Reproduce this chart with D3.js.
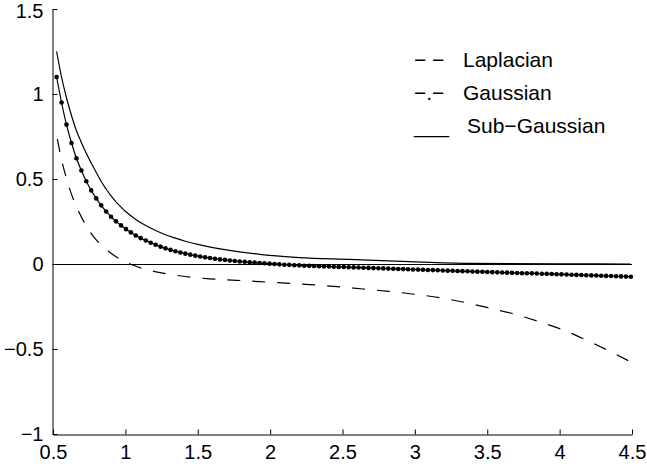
<!DOCTYPE html>
<html>
<head>
<meta charset="utf-8">
<script src="https://cdn.jsdelivr.net/npm/d3@7"></script>
<style>
  body { margin: 0; background: #fff; }
  svg text { font-family: "Liberation Sans", Arial, Helvetica, sans-serif; fill: #000; }
</style>
</head>
<body>
<script>
(function() {
    'use strict';

    // tick labels
    var xTicks = [0.5, 1, 1.5, 2, 2.5, 3, 3.5, 4, 4.5];
    var yTicks = [-1, -0.5, 0, 0.5, 1, 1.5];

    // legend
    var legendLabels = ["Laplacian", "Gaussian", "Sub\u2212Gaussian"];
    var legendSymbols = ["\u2212 \u2212", "\u2212.\u2212", "___"];

    // Laplacian (dashed)
    var lapX = [0.53, 0.56, 0.594, 0.63, 0.663, 0.70, 0.755, 0.80, 0.86, 0.93, 1.0, 1.05, 1.13, 1.24, 1.40,
                1.58, 1.77, 1.93, 2.11, 2.27, 2.46, 2.64, 2.82, 3.0, 3.17, 3.34, 3.51, 3.7, 3.86, 4.03,
                4.19, 4.35, 4.49];
    var lapY = [0.735, 0.61, 0.50, 0.405, 0.335, 0.27, 0.19, 0.14, 0.092, 0.046, 0.013, -0.006, -0.029, -0.051, -0.072,
                -0.087, -0.096, -0.104, -0.113, -0.121, -0.133, -0.147, -0.161, -0.178, -0.198, -0.225, -0.258, -0.298, -0.34, -0.39,
                -0.45, -0.515, -0.575];

    // Sub-Gaussian (solid)
    var subX = [0.525, 0.559, 0.593, 0.628, 0.662, 0.696, 0.730, 0.764, 0.799, 0.833,
                0.867, 0.901, 0.935, 0.970, 1.004, 1.072, 1.141, 1.209, 1.277, 1.346,
                1.414, 1.517, 1.654, 1.790, 1.927, 2.064, 2.201, 2.55, 2.96, 3.37,
                4.0, 4.49];
    var subY = [1.25, 1.10, 0.978, 0.872, 0.784, 0.715, 0.651, 0.594, 0.538, 0.485,
                0.441, 0.401, 0.366, 0.335, 0.307, 0.262, 0.226, 0.197, 0.172, 0.152,
                0.134, 0.112, 0.089, 0.071, 0.057, 0.046, 0.038, 0.027, 0.014, 0.004,
                0.001, 0.0];

    // Gaussian (line with dots)
    var gaussX = [0.525, 0.559, 0.593, 0.628, 0.662, 0.696, 0.730, 0.764, 0.799, 0.833,
                  0.867, 0.901, 0.935, 0.970, 1.004, 1.038, 1.072, 1.106, 1.141, 1.175,
                  1.209, 1.243, 1.277, 1.312, 1.346, 1.380, 1.414, 1.448, 1.483, 1.517,
                  1.551, 1.585, 1.619, 1.654, 1.688, 1.722, 1.756, 1.790, 1.825, 1.859,
                  1.893, 1.927, 1.961, 1.996, 2.030, 2.064, 2.098, 2.132, 2.167, 2.201,
                  2.235, 2.269, 2.303, 2.338, 2.372, 2.406, 2.440, 2.474, 2.509, 2.543,
                  2.577, 2.611, 2.645, 2.680, 2.714, 2.748, 2.782, 2.816, 2.851, 2.885,
                  2.919, 2.953, 2.987, 3.022, 3.056, 3.090, 3.124, 3.158, 3.193, 3.227,
                  3.261, 3.295, 3.329, 3.364, 3.398, 3.432, 3.466, 3.500, 3.535, 3.569,
                  3.603, 3.637, 3.671, 3.706, 3.740, 3.774, 3.808, 3.842, 3.877, 3.911,
                  3.945, 3.979, 4.013, 4.048, 4.082, 4.116, 4.150, 4.184, 4.219, 4.253,
                  4.287, 4.321, 4.355, 4.390, 4.424, 4.458, 4.492];
    var gaussY = [1.100, 0.950, 0.820, 0.712, 0.622, 0.550, 0.487, 0.433, 0.386, 0.345,
                  0.309, 0.278, 0.251, 0.227, 0.205, 0.186, 0.168, 0.152, 0.138, 0.125,
                  0.113, 0.102, 0.092, 0.083, 0.075, 0.068, 0.061, 0.055, 0.049, 0.044,
                  0.039, 0.035, 0.031, 0.027, 0.024, 0.021, 0.018, 0.015, 0.013, 0.010,
                  0.008, 0.006, 0.004, 0.002, 0.000, -0.002, -0.004, -0.005, -0.007, -0.008,
                  -0.010, -0.011, -0.012, -0.013, -0.014, -0.015, -0.016, -0.017, -0.018, -0.019,
                  -0.020, -0.021, -0.022, -0.023, -0.024, -0.025, -0.026, -0.027, -0.028, -0.029,
                  -0.030, -0.031, -0.032, -0.033, -0.034, -0.035, -0.036, -0.037, -0.038, -0.039,
                  -0.040, -0.041, -0.042, -0.043, -0.044, -0.045, -0.046, -0.047, -0.048, -0.049,
                  -0.050, -0.051, -0.052, -0.053, -0.054, -0.054, -0.055, -0.056, -0.057, -0.058,
                  -0.059, -0.060, -0.061, -0.062, -0.063, -0.064, -0.065, -0.066, -0.067, -0.068,
                  -0.069, -0.070, -0.071, -0.072, -0.073, -0.074, -0.075];

    var w = 647;
    var h = 470;
    var svg = d3.select("body")
                .append("svg")
                .attr("width", w)
                .attr("height", h);

    var x = d3.scaleLinear().domain([0.5, 4.5]).range([53, 632]);
    var y = d3.scaleLinear().domain([-1, 1.5]).range([434, 9]);

    function pairs(xs, ys) {
        return xs.map(function(d, i) { return [d, ys[i]]; });
    }

    var fmt = function(d) { return d3.format("")(d); };

    var xAxis = svg.append("g")
        .attr("transform", "translate(0,434.5)")
        .call(d3.axisBottom(x).tickValues(xTicks).tickFormat(fmt)
                .tickSizeInner(-5).tickSizeOuter(0).tickPadding(10));
    var yAxis = svg.append("g")
        .attr("transform", "translate(52.5,0)")
        .call(d3.axisLeft(y).tickValues(yTicks).tickFormat(fmt)
                .tickSizeInner(-5).tickSizeOuter(0).tickPadding(9));
    [xAxis, yAxis].forEach(function(g) {
        g.selectAll("text").style("font-size", "20px").attr("fill", "#000");
        g.selectAll("line, path").attr("stroke", "#000").attr("stroke-width", 1);
    });
    // keep the top label inside the picture
    yAxis.selectAll(".tick text")
         .filter(function(d) { return d === 1.5; })
         .attr("dy", "0.42em");

    // zero reference line
    svg.append("line")
       .attr("x1", x(0.5)).attr("x2", x(4.5))
       .attr("y1", y(0) + 0.5).attr("y2", y(0) + 0.5)
       .attr("stroke", "#000")
       .attr("stroke-width", 1.1);

    var line = d3.line()
        .x(function(d) { return x(d[0]); })
        .y(function(d) { return y(d[1]); })
        .curve(d3.curveMonotoneX);

    svg.append("path")
       .datum(pairs(lapX, lapY))
       .attr("d", line)
       .attr("fill", "none")
       .attr("stroke", "#000")
       .attr("stroke-width", 1.2)
       .attr("stroke-dasharray", "13,12");

    svg.append("path")
       .datum(pairs(subX, subY))
       .attr("d", line)
       .attr("fill", "none")
       .attr("stroke", "#000")
       .attr("stroke-width", 1.2);

    var gauss = pairs(gaussX, gaussY);
    svg.append("path")
       .datum(gauss)
       .attr("d", line)
       .attr("fill", "none")
       .attr("stroke", "#000")
       .attr("stroke-width", 1.2);

    svg.selectAll("circle.gauss")
       .data(gauss)
       .enter()
       .append("circle")
       .attr("class", "gauss")
       .attr("cx", function(d) { return x(d[0]); })
       .attr("cy", function(d) { return y(d[1]); })
       .attr("r", 2.3)
       .attr("fill", "#000");

    // legend
    var legendY = [67, 100, 133];
    var legendTextX = [463, 463, 467];
    var legend = svg.append("g");
    legend.selectAll("text.sym")
          .data(legendSymbols)
          .enter()
          .append("text")
          .attr("class", "sym")
          .attr("x", 414)
          .attr("y", function(d, i) { return legendY[i]; })
          .style("font-size", "21px")
          .style("white-space", "pre")
          .text(function(d) { return d; });
    legend.selectAll("text.lab")
          .data(legendLabels)
          .enter()
          .append("text")
          .attr("class", "lab")
          .attr("x", function(d, i) { return legendTextX[i]; })
          .attr("y", function(d, i) { return legendY[i]; })
          .style("font-size", "21px")
          .text(function(d) { return d; });
}());
</script>
</body>
</html>
